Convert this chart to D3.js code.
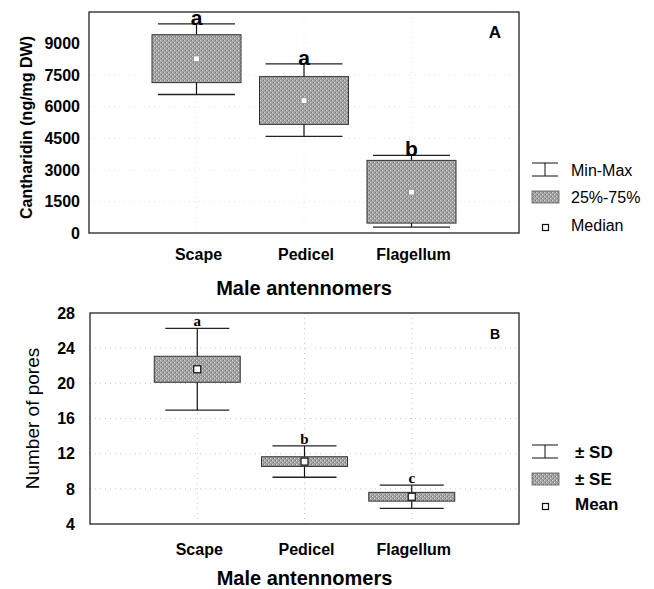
<!DOCTYPE html>
<html>
<head>
<meta charset="utf-8">
<script src="https://cdn.jsdelivr.net/npm/d3@7"></script>
<style>
  body { margin: 0; background: #fff; }
  svg { display: block; font-family: "Liberation Sans", Arial, sans-serif; }
</style>
</head>
<body>
<svg id="chart" width="654" height="589"></svg>
<script>
// categories shared by both panels
const categories = ['Scape', 'Pedicel', 'Flagellum'];

// panel A: cantharidin content (box = 25%-75%, whiskers = min-max)
const cantharidinMin = [6580, 4590, 280];
const cantharidinQ1 = [7145, 5160, 470];
const cantharidinMedian = [8280, 6290, 1940];
const cantharidinQ3 = [9420, 7430, 3450];
const cantharidinMax = [9940, 8040, 3690];
const lettersA = ['a', 'a', 'b'];
const ticksA = [0, 1500, 3000, 4500, 6000, 7500, 9000];

// panel B: number of pores (box = +-SE, whiskers = +-SD)
const poresMean = [21.6, 11.1, 7.1];
const poresSE = [1.48, 0.55, 0.5];
const poresSD = [4.65, 1.78, 1.32];
const lettersB = ['a', 'b', 'c'];
const ticksB = [4, 8, 12, 16, 20, 24, 28];

const svg = d3.select('#chart');

// dithered grey fill like the scan
const defs = svg.append('defs');
const pat = defs.append('pattern')
  .attr('id', 'dither')
  .attr('width', 4).attr('height', 4)
  .attr('patternUnits', 'userSpaceOnUse');
pat.append('rect').attr('width', 4).attr('height', 4).attr('fill', '#a2a2a2');
pat.append('rect').attr('x', 0).attr('y', 0).attr('width', 1).attr('height', 1).attr('fill', '#d8d8d8');
pat.append('rect').attr('x', 2).attr('y', 2).attr('width', 1).attr('height', 1).attr('fill', '#d8d8d8');
pat.append('rect').attr('x', 1).attr('y', 2).attr('width', 1).attr('height', 1).attr('fill', '#7e7e7e');
pat.append('rect').attr('x', 3).attr('y', 0).attr('width', 1).attr('height', 1).attr('fill', '#7e7e7e');

function drawPanel(opt) {
  let x = d3.scalePoint().domain(categories).range([opt.left, opt.right]).padding(1);
  let y = d3.scaleLinear().domain(opt.domain).range([opt.bottom, opt.top]);
  let g = svg.append('g');

  // dotted grid
  g.selectAll('.hgrid')
    .data(opt.ticks.slice(1, -1))
    .enter()
    .append('line')
      .attr('x1', opt.left).attr('x2', opt.right)
      .attr('y1', (d) => y(d)).attr('y2', (d) => y(d))
      .attr('stroke', opt.gridColor)
      .attr('stroke-dasharray', '1,4');
  g.selectAll('.vgrid')
    .data(categories)
    .enter()
    .append('line')
      .attr('x1', (d) => x(d)).attr('x2', (d) => x(d))
      .attr('y1', opt.top).attr('y2', opt.bottom)
      .attr('stroke', opt.gridColor)
      .attr('stroke-dasharray', '1,4');

  // frame
  g.append('rect')
    .attr('x', opt.left).attr('y', opt.top)
    .attr('width', opt.right - opt.left).attr('height', opt.bottom - opt.top)
    .attr('fill', 'none').attr('stroke', '#222').attr('stroke-width', 1.3);

  // y tick labels (no tick marks)
  g.selectAll('.ytick')
    .data(opt.ticks)
    .enter()
    .append('text')
      .attr('x', opt.left - opt.tickGap)
      .attr('y', (d) => y(d))
      .attr('dy', '0.36em')
      .attr('text-anchor', 'end')
      .attr('font-size', 16).attr('font-weight', 'bold')
      .text((d) => d);

  // x tick labels
  g.selectAll('.xtick')
    .data(categories)
    .enter()
    .append('text')
      .attr('x', (d) => x(d) + 2)
      .attr('y', opt.xLabelY)
      .attr('text-anchor', 'middle')
      .attr('font-size', 16).attr('font-weight', 'bold')
      .text((d) => d);

  // axis titles
  g.append('text')
    .attr('x', (opt.left + opt.right) / 2)
    .attr('y', opt.xTitleY)
    .attr('text-anchor', 'middle')
    .attr('font-size', 20).attr('font-weight', 'bold')
    .text('Male antennomers');
  g.append('text')
    .attr('transform', `translate(${opt.yTitleX},${(opt.top + opt.bottom) / 2 + opt.yTitleShift})rotate(-90)`)
    .attr('text-anchor', 'middle')
    .attr('font-size', opt.yTitleSize).attr('font-weight', opt.yTitleWeight)
    .text(opt.yTitle);

  // panel letter
  g.append('text')
    .attr('x', opt.right - 24).attr('y', opt.top + opt.panelDy)
    .attr('text-anchor', 'middle')
    .attr('font-size', opt.panelSize).attr('font-weight', 'bold')
    .text(opt.panel);

  let items = categories.map((c, i) => ({
    cat: c, lo: opt.lo[i], q1: opt.q1[i], mid: opt.mid[i], q3: opt.q3[i], hi: opt.hi[i], letter: opt.letters[i]
  }));

  let box = g.selectAll('.box').data(items).enter().append('g');
  // whisker stem
  box.append('line')
    .attr('x1', (d) => x(d.cat)).attr('x2', (d) => x(d.cat))
    .attr('y1', (d) => y(d.hi)).attr('y2', (d) => y(d.lo))
    .attr('stroke', '#111').attr('stroke-width', 1.2);
  // caps
  box.selectAll('.cap')
    .data((d) => [{ cat: d.cat, v: d.hi }, { cat: d.cat, v: d.lo }])
    .enter()
    .append('line')
      .attr('x1', (d) => x(d.cat) - opt.capW / 2).attr('x2', (d) => x(d.cat) + opt.capW / 2)
      .attr('y1', (d) => y(d.v)).attr('y2', (d) => y(d.v))
      .attr('stroke', '#222').attr('stroke-width', 1.3);
  // box
  box.append('rect')
    .attr('x', (d) => x(d.cat) - opt.boxW / 2)
    .attr('width', opt.boxW)
    .attr('y', (d) => y(d.q3))
    .attr('height', (d) => y(d.q1) - y(d.q3))
    .attr('fill', 'url(#dither)')
    .attr('stroke', '#333').attr('stroke-width', 1);
  // centre marker
  box.append('rect')
    .attr('x', (d) => x(d.cat) - opt.markSize / 2)
    .attr('y', (d) => y(d.mid) - opt.markSize / 2)
    .attr('width', opt.markSize).attr('height', opt.markSize)
    .attr('fill', '#fff')
    .attr('stroke', opt.markStroke).attr('stroke-width', 1.2);
  // significance letters
  box.append('text')
    .attr('x', (d) => x(d.cat))
    .attr('y', (d) => y(d.hi) + opt.letterDy)
    .attr('text-anchor', 'middle')
    .attr('font-family', opt.letterFont)
    .attr('font-size', opt.letterSize).attr('font-weight', 'bold')
    .text((d) => d.letter);

  // legend
  let lx = opt.right + 13;
  let lg = g.append('g');
  let ly = opt.legendY;
  lg.append('line').attr('x1', lx).attr('x2', lx + 26).attr('y1', ly[0] - 13).attr('y2', ly[0] - 13).attr('stroke', '#111');
  lg.append('line').attr('x1', lx).attr('x2', lx + 26).attr('y1', ly[0]).attr('y2', ly[0]).attr('stroke', '#111');
  lg.append('line').attr('x1', lx + 13).attr('x2', lx + 13).attr('y1', ly[0] - 13).attr('y2', ly[0]).attr('stroke', '#111');
  lg.append('rect').attr('x', lx).attr('y', ly[1] - 12).attr('width', 27).attr('height', 12)
    .attr('fill', 'url(#dither)').attr('stroke', '#555').attr('stroke-width', 0.8);
  lg.append('rect').attr('x', lx + 10.5).attr('y', ly[2] - 6.5).attr('width', 6).attr('height', 6)
    .attr('fill', '#fff').attr('stroke', '#111').attr('stroke-width', 1.2);
  lg.selectAll('.ltext')
    .data(opt.legendLabels)
    .enter()
    .append('text')
      .attr('x', lx + opt.legendTextDx)
      .attr('y', (d, i) => ly[i])
      .attr('font-size', opt.legendSize).attr('font-weight', opt.legendWeight)
      .text((d) => d);
}

drawPanel({
  left: 89, right: 519, top: 12, bottom: 233, tickGap: 9,
  domain: [0, 10500], ticks: ticksA, gridColor: '#e6e6e6',
  lo: cantharidinMin, q1: cantharidinQ1, mid: cantharidinMedian, q3: cantharidinQ3, hi: cantharidinMax,
  letters: lettersA, letterFont: '"Liberation Sans Narrow", "Liberation Sans", Arial, sans-serif',
  letterSize: 21, letterDy: 1,
  boxW: 89, capW: 77, markSize: 6, markStroke: '#999',
  xLabelY: 260, xTitleY: 295, yTitleX: 32, yTitleShift: 5, yTitleSize: 16, yTitleWeight: 'bold',
  yTitle: 'Cantharidin (ng/mg DW)',
  panel: 'A', panelDy: 26, panelSize: 17,
  legendY: [176, 203, 231], legendLabels: ['Min-Max', '25%-75%', 'Median'],
  legendTextDx: 39, legendSize: 16, legendWeight: 'normal'
});

drawPanel({
  left: 90, right: 519, top: 313, bottom: 524, tickGap: 15,
  domain: [4, 28], ticks: ticksB, gridColor: '#c8c8c8',
  lo: poresMean.map((m, i) => m - poresSD[i]),
  q1: poresMean.map((m, i) => m - poresSE[i]),
  mid: poresMean,
  q3: poresMean.map((m, i) => m + poresSE[i]),
  hi: poresMean.map((m, i) => m + poresSD[i]),
  letters: lettersB, letterFont: '"Liberation Serif", "Times New Roman", serif',
  letterSize: 15, letterDy: -2,
  boxW: 86, capW: 64, markSize: 7, markStroke: '#111',
  xLabelY: 555, xTitleY: 585, yTitleX: 39, yTitleShift: 0, yTitleSize: 19, yTitleWeight: 'normal',
  yTitle: 'Number of pores',
  panel: 'B', panelDy: 26, panelSize: 14,
  legendY: [458, 485, 510], legendLabels: ['\u00b1 SD', '\u00b1 SE', 'Mean'],
  legendTextDx: 43, legendSize: 17, legendWeight: 'bold'
});
</script>
</body>
</html>
